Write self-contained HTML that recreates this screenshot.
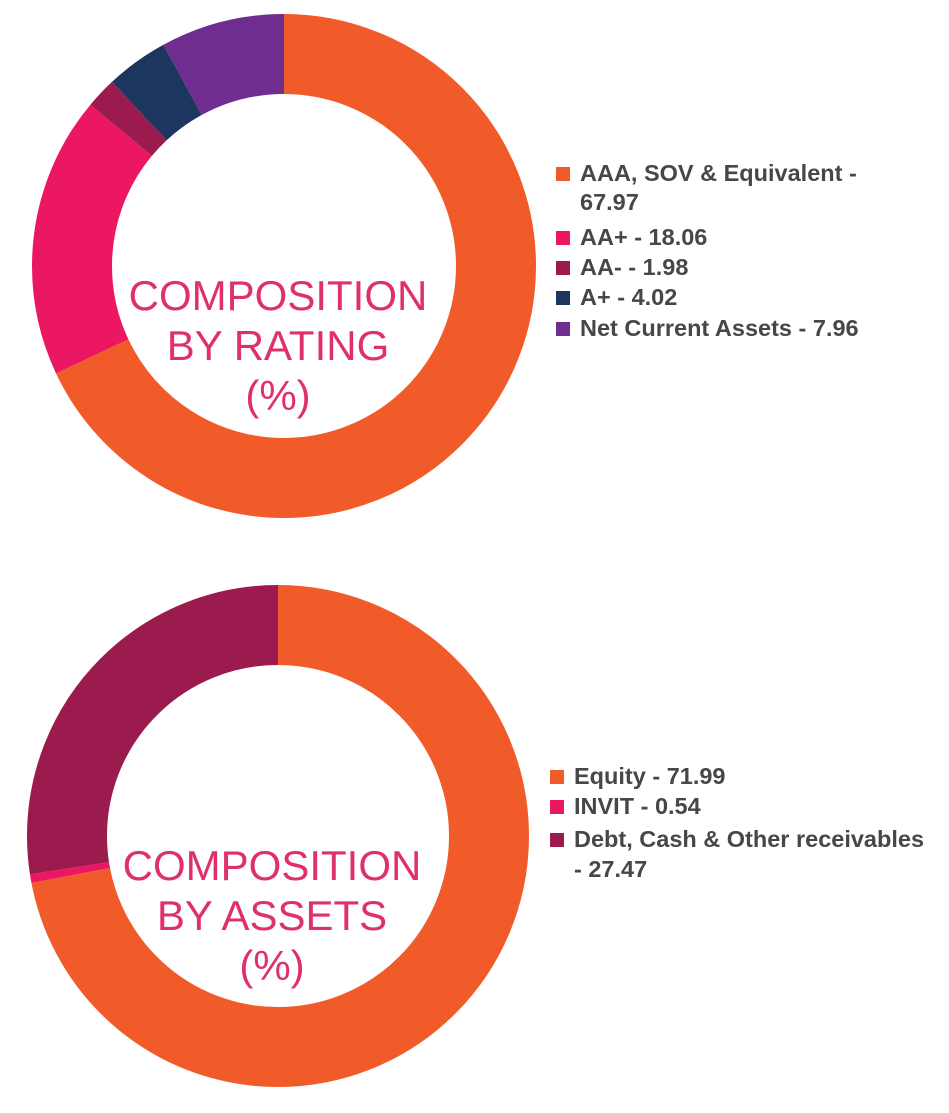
<!DOCTYPE html>
<html><head><style>
body{margin:0;width:949px;height:1113px;background:#fff;overflow:hidden;font-family:"Liberation Sans",sans-serif}
.lg{position:absolute;font-size:23.5px;font-weight:bold;color:#474747;line-height:30px;white-space:nowrap}
.sq{display:inline-block;width:14px;height:14px;margin-right:10px;vertical-align:0px}
.c{position:absolute;text-align:center;color:#E0306A;font-size:42px;line-height:50px;width:400px}
</style></head><body>
<svg width="949" height="1113" style="position:absolute;left:0;top:0">
<g transform="rotate(-90 284 266)" fill="none" stroke-width="80">
<circle cx="284" cy="266" r="212" stroke="#F15A29" stroke-dasharray="905.4 2000" stroke-dashoffset="0"/>
<circle cx="284" cy="266" r="212" stroke="#EC1763" stroke-dasharray="240.6 2000" stroke-dashoffset="-905.4"/>
<circle cx="284" cy="266" r="212" stroke="#9B1B4E" stroke-dasharray="26.4 2000" stroke-dashoffset="-1146"/>
<circle cx="284" cy="266" r="212" stroke="#1C3660" stroke-dasharray="53.5 2000" stroke-dashoffset="-1172.4"/>
<circle cx="284" cy="266" r="212" stroke="#6E2D8F" stroke-dasharray="106.1 2000" stroke-dashoffset="-1225.9"/>
</g>
<g transform="rotate(-90 278 836)" fill="none" stroke-width="80">
<circle cx="278" cy="836" r="211" stroke="#F15A29" stroke-dasharray="954.4 2000" stroke-dashoffset="0"/>
<circle cx="278" cy="836" r="211" stroke="#EC1763" stroke-dasharray="7.2 2000" stroke-dashoffset="-954.4"/>
<circle cx="278" cy="836" r="211" stroke="#9B1B4E" stroke-dasharray="364.2 2000" stroke-dashoffset="-961.6"/>
</g>
</svg>
<div class="c" style="left:78px;top:271px">COMPOSITION<br>BY RATING<br>(%)</div>
<div class="c" style="left:72px;top:841px">COMPOSITION<br>BY ASSETS<br>(%)</div>
<div class="lg" style="left:556px;top:158px">
<div><span class="sq" style="background:#F15A29"></span>AAA, SOV &amp; Equivalent -</div>
<div style="padding-left:24px;margin-top:-1px;margin-bottom:5px">67.97</div>
<div><span class="sq" style="background:#EC1763"></span>AA+ - 18.06</div>
<div><span class="sq" style="background:#9B1B4E"></span>AA- - 1.98</div>
<div><span class="sq" style="background:#1C3660"></span>A+ - 4.02</div>
<div style="margin-top:1px"><span class="sq" style="background:#6E2D8F"></span>Net Current Assets - 7.96</div>
</div>
<div class="lg" style="left:550px;top:761px">
<div><span class="sq" style="background:#F15A29"></span>Equity - 71.99</div>
<div style="margin-bottom:3px"><span class="sq" style="background:#EC1763"></span>INVIT - 0.54</div>
<div><span class="sq" style="background:#9B1B4E"></span>Debt, Cash &amp; Other receivables</div>
<div style="padding-left:24px;margin-top:0px">- 27.47</div>
</div>
</body></html>
